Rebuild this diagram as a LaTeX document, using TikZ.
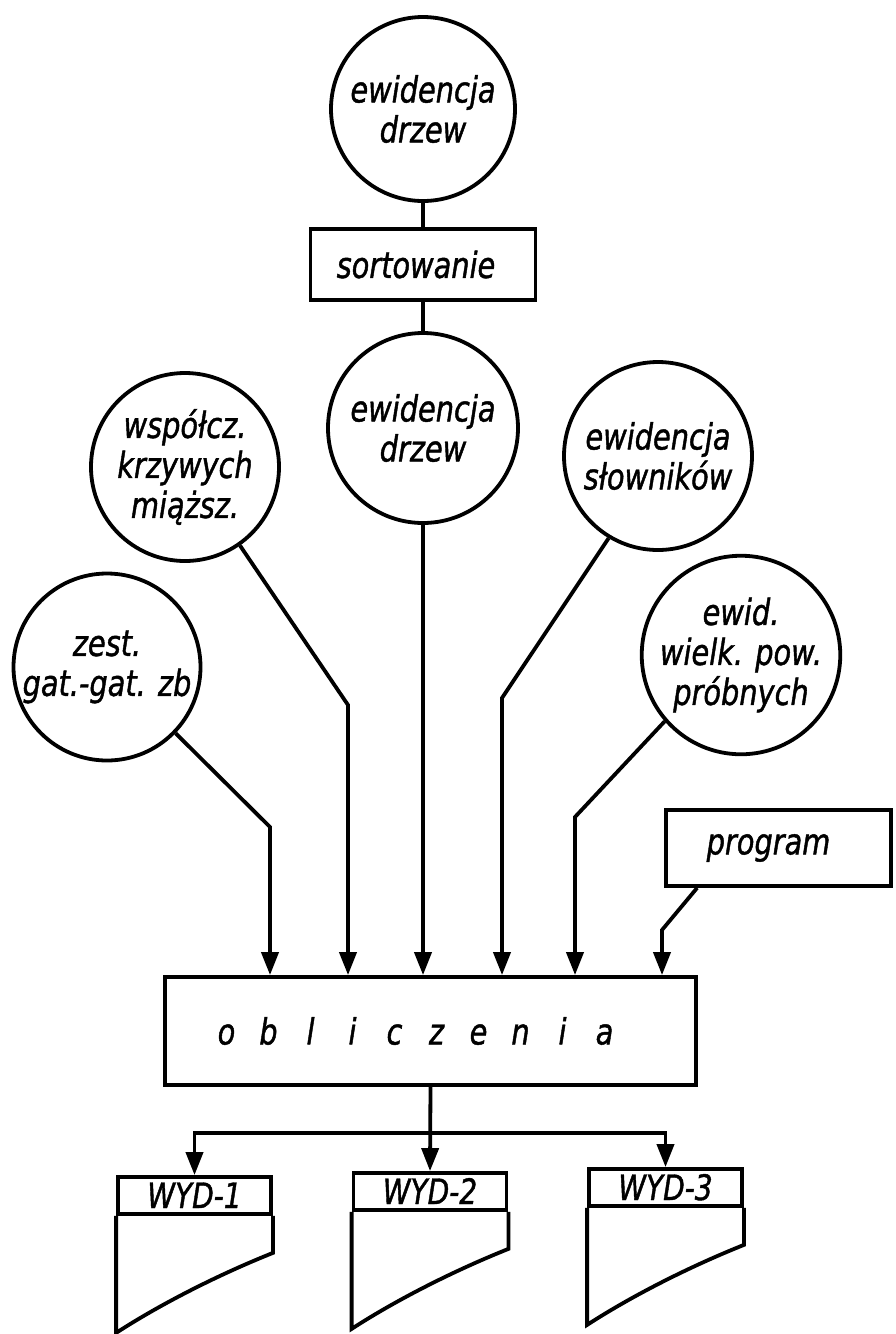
\documentclass[tikz,border=0pt]{standalone}
\usepackage{fontspec}
\setmainfont{DejaVu Sans}[FakeStretch=0.8, FakeBold=1.2, ItalicFont={DejaVu Sans Oblique}]
\usetikzlibrary{arrows.meta,calc}
\newcommand\dfont{\itshape\fontsize{36}{40}\selectfont}
\newcommand\wfont{\itshape\fontsize{35}{40}\selectfont}
\newcommand\oblLetter[1]{\makebox[42pt][c]{#1}}
\newcommand\wydText[1]{\raisebox{-12.5pt}[0pt][0pt]{#1}}
\begin{document}
\begin{tikzpicture}[x=1pt,y=-1pt,
  lw/.style={line width=3.8pt},
  circ/.style={circle,draw,lw,minimum size=#1,inner sep=0pt,align=center,font=\dfont},
  circ/.default=189pt,
  box/.style={rectangle,draw,lw,inner sep=0pt,align=center,font=\dfont},
  wbox/.style={box,minimum width=153pt,minimum height=37pt,font=\wfont},
  conn/.style={lw,-{Triangle[length=23pt,width=17pt]}},
]
\useasboundingbox (0,0) rectangle (895,1334);

% nodes
\node[circ=184pt] (c0) at (423,109) {ewidencja\\drzew};
\node[box,minimum width=225pt,minimum height=71pt] (sort) at (423,264.5) {sortowanie\hspace*{14pt}};
\node[circ=190pt] (c1) at (423,428) {ewidencja\\drzew};
\node[circ=188pt] (wsp) at (185,467) {współcz.\\krzywych\\miąższ.};
\node[circ=188pt] (slo) at (658,456) {ewidencja\\słowników};
\node[circ=186pt] (ewd) at (741,655) {ewid.\\wielk. pow.\\próbnych};
\node[circ=187pt] (zst) at (107,667) {zest.\\gat.-gat. zb};
\node[box,minimum width=225pt,minimum height=76pt] (prg) at (778.5,848) {program\hspace*{20pt}};
\node[box,minimum width=531pt,minimum height=108pt] (obl) at (430.5,1031)
  {\oblLetter{o}\oblLetter{b}\oblLetter{l}\oblLetter{i}\oblLetter{c}\oblLetter{z}\oblLetter{e}\oblLetter{n}\oblLetter{i}\oblLetter{a}\hspace*{30pt}};

\node[wbox] (w1) at (194.5,1195.5) {\wydText{WYD-1}};
\node[wbox] (w2) at (430,1191.5) {\wydText{WYD-2}};
\node[wbox] (w3) at (665.5,1187.5) {\wydText{WYD-3}};
\foreach \w in {w1,w2,w3}{
  \draw[lw] (\w.south east) -- ++(0,37)
    .. controls +(-60,24) and +(40,-26) .. ($(\w.south west)+(0,117)$)
    -- (\w.south west);
}

% bend points
\coordinate (b1) at (270,827);
\coordinate (b2) at (348,705);
\coordinate (b4) at (502,698);
\coordinate (b5) at (575,817);
\coordinate (b6) at (662,930);
\coordinate (hy) at (0,1133);

% connectors
\draw[lw] (c0) -- (sort);
\draw[lw] (sort) -- (c1);
\draw[conn] (zst.-44) -- (b1) -- (b1 |- obl.north);
\draw[conn] (wsp.-55) -- (b2) -- (b2 |- obl.north);
\draw[conn] (c1) -- (c1 |- obl.north);
\draw[conn] (slo.-121) -- (b4) -- (b4 |- obl.north);
\draw[conn] (ewd.-139) -- (b5) -- (b5 |- obl.north);
\draw[conn] ($(prg.south west)+(33,0)$) -- (b6) -- (b6 |- obl.north);

\draw[conn] (obl.south) -- (w2.north);
\draw[conn] (obl.south |- hy) -| (w1.north);
\draw[conn] (obl.south |- hy) -| (w3.north);
\end{tikzpicture}
\end{document}
